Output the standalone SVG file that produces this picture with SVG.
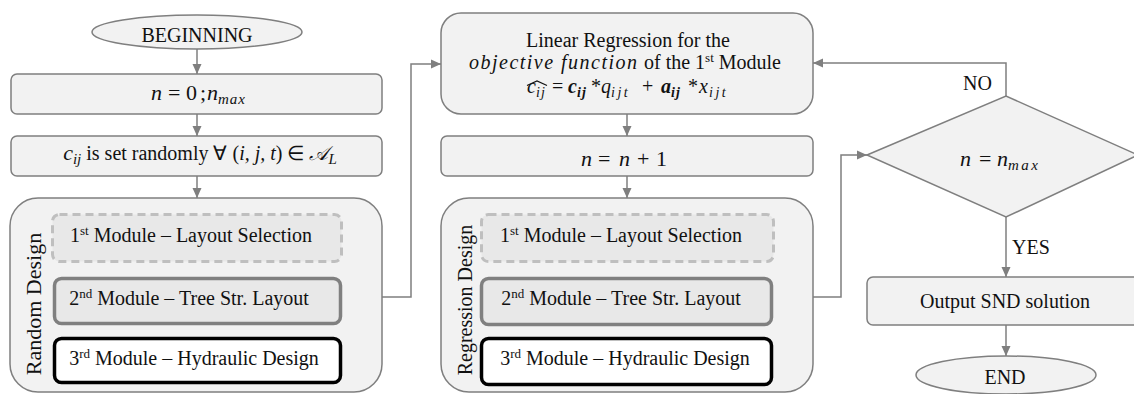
<svg xmlns="http://www.w3.org/2000/svg" width="1134" height="394" viewBox="0 0 1134 394">
<style>
.box{fill:#f2f2f2;stroke:#7f7f7f;stroke-width:1.5}
.t{font-family:"Liberation Serif",serif;font-size:20px;fill:#111}
.m{font-family:"Liberation Serif","DejaVu Serif",serif;font-style:italic;font-size:22px;fill:#111}
.n{font-style:normal}
.c{text-anchor:middle}
.sup{font-size:13px}
.sub{font-size:15px}
.s2{letter-spacing:1px}
.s3{letter-spacing:2.5px}
.b{font-weight:bold}
.con{fill:none;stroke:#7f7f7f;stroke-width:1.5}
.m1{fill:#e8e8e8;stroke:#bfbfbf;stroke-width:3;stroke-dasharray:8 5}
.m2{fill:#e8e8e8;stroke:#808080;stroke-width:3.5}
.m3{fill:#ffffff;stroke:#000;stroke-width:3.5}
</style>
<defs>
<marker id="ah" markerWidth="10" markerHeight="10" refX="10" refY="5" orient="auto" markerUnits="userSpaceOnUse" viewBox="0 0 10 10">
<path d="M0,0.5 L10,5 L0,9.5 Z" fill="#7f7f7f"/>
</marker>
</defs>

<g id="connectors">
<line class="con" x1="197" y1="49" x2="197" y2="74" marker-end="url(#ah)"/>
<line class="con" x1="197" y1="114" x2="197" y2="136" marker-end="url(#ah)"/>
<line class="con" x1="197" y1="176" x2="197" y2="198" marker-end="url(#ah)"/>
<polyline class="con" points="382,297 411,297 411,64 441,64" marker-end="url(#ah)"/>
<line class="con" x1="627" y1="114" x2="627" y2="136" marker-end="url(#ah)"/>
<line class="con" x1="627" y1="176" x2="627" y2="198" marker-end="url(#ah)"/>
<polyline class="con" points="813,297 841,297 841,155 867,155" marker-end="url(#ah)"/>
<polyline class="con" points="1006,96 1006,63 813,63" marker-end="url(#ah)"/>
<line class="con" x1="1006" y1="217" x2="1006" y2="277" marker-end="url(#ah)"/>
<line class="con" x1="1006" y1="325" x2="1006" y2="356" marker-end="url(#ah)"/>
</g>

<g id="begin">
<ellipse class="box" cx="197" cy="32" rx="105" ry="17"/>
<text class="t c" x="197" y="42">BEGINNING</text>
</g>

<g id="init">
<rect class="box" x="11" y="74" width="371" height="40" rx="6"/>
<text class="m" y="100"><tspan x="151">n</tspan><tspan class="n" x="168">=</tspan><tspan class="n" x="186">0</tspan><tspan class="n" x="200">;</tspan><tspan x="207">n</tspan><tspan class="sub s2" x="218" y="104">max</tspan></text>
</g>

<g id="setc">
<rect class="box" x="11" y="136" width="371" height="40" rx="6"/>
<text class="t c" x="200" y="160"><tspan font-style="italic" style="font-size:22px">c</tspan><tspan class="sub" font-style="italic" dy="4">ij</tspan><tspan dy="-4"> is set randomly ∀ (</tspan><tspan font-style="italic">i, j, t</tspan>) ∈ <tspan font-style="italic">𝒜</tspan><tspan class="sub" font-style="italic" dy="4">L</tspan></text>
</g>

<g id="random">
<rect class="box" x="10" y="198" width="372" height="194" rx="28"/>
<text class="t c" transform="translate(41,304) rotate(-90)" style="font-size:22px">Random Design</text>
<rect class="m1" x="52.5" y="214.5" width="289" height="47" rx="7"/>
<text class="t c" x="191" y="242">1<tspan class="sup" dy="-7">st</tspan><tspan dy="7"> Module – Layout Selection</tspan></text>
<rect class="m2" x="54.5" y="278.5" width="286" height="45" rx="7"/>
<text class="t c" x="189" y="305">2<tspan class="sup" dy="-7">nd</tspan><tspan dy="7"> Module – Tree Str. Layout</tspan></text>
<rect class="m3" x="54.5" y="338.5" width="286" height="44" rx="7"/>
<text class="t c" x="194" y="365">3<tspan class="sup" dy="-7">rd</tspan><tspan dy="7"> Module – Hydraulic Design</tspan></text>
</g>

<g id="linreg">
<rect class="box" x="441" y="13" width="372" height="101" rx="20"/>
<text class="t c" x="628" y="47">Linear Regression for the</text>
<text class="m" x="469" y="69" textLength="168" lengthAdjust="spacing" style="font-size:20px">objective function</text>
<text class="t" x="644" y="69">of the 1<tspan class="sup" dy="-7">st</tspan><tspan dy="7"> Module</tspan></text>
<polyline points="527,85.5 537,81 547,85.5" fill="none" stroke="#111" stroke-width="1.2"/>
<text class="m" y="93" style="font-size:20px"><tspan x="527">c</tspan><tspan class="sub s2" x="536" y="97" style="font-size:14px">ij</tspan><tspan class="n" x="552" y="93">=</tspan><tspan class="b" x="568">c</tspan><tspan class="sub b s2" x="577" y="97" style="font-size:14px">ij</tspan><tspan class="n" x="591" y="93">*</tspan><tspan x="601">q</tspan><tspan class="sub s3" x="611" y="97" style="font-size:14px">ijt</tspan><tspan class="n" x="642" y="93">+</tspan><tspan class="b" x="661">a</tspan><tspan class="sub b s2" x="671" y="97" style="font-size:14px">ij</tspan><tspan class="n" x="688" y="93">*</tspan><tspan x="699">x</tspan><tspan class="sub s3" x="709" y="97" style="font-size:14px">ijt</tspan></text>
</g>

<g id="incr">
<rect class="box" x="441" y="136" width="372" height="40" rx="6"/>
<text class="m" y="166"><tspan x="581">n</tspan><tspan class="n" x="598">=</tspan><tspan x="619">n</tspan><tspan class="n" x="637">+</tspan><tspan class="n" x="656">1</tspan></text>
</g>

<g id="regression">
<rect class="box" x="441" y="198" width="372" height="194" rx="28"/>
<text class="t c" transform="translate(472,300) rotate(-90)">Regression Design</text>
<rect class="m1" x="481.5" y="214.5" width="292" height="47" rx="7"/>
<text class="t c" x="621" y="242">1<tspan class="sup" dy="-7">st</tspan><tspan dy="7"> Module – Layout Selection</tspan></text>
<rect class="m2" x="481.5" y="278.5" width="290" height="46" rx="7"/>
<text class="t c" x="621" y="305">2<tspan class="sup" dy="-7">nd</tspan><tspan dy="7"> Module – Tree Str. Layout</tspan></text>
<rect class="m3" x="481.5" y="338.5" width="290" height="46" rx="7"/>
<text class="t c" x="625" y="365">3<tspan class="sup" dy="-7">rd</tspan><tspan dy="7"> Module – Hydraulic Design</tspan></text>
</g>

<g id="decision">
<polygon class="box" points="867,155 1006,96 1138,155 1006,217"/>
<text class="m" y="166"><tspan x="960">n</tspan><tspan class="n" x="979">=</tspan><tspan x="997">n</tspan><tspan class="sub" x="1008" y="170" style="letter-spacing:2.5px">max</tspan></text>
<text class="t" x="992" y="90" text-anchor="end">NO</text>
<text class="t" x="1012" y="254">YES</text>
</g>

<g id="output">
<rect class="box" x="867" y="277" width="280" height="48" rx="6"/>
<text class="t c" x="1005" y="308">Output SND solution</text>
</g>

<g id="end">
<ellipse class="box" cx="1006" cy="375" rx="90" ry="19"/>
<text class="t c" x="1005" y="384">END</text>
</g>
</svg>
